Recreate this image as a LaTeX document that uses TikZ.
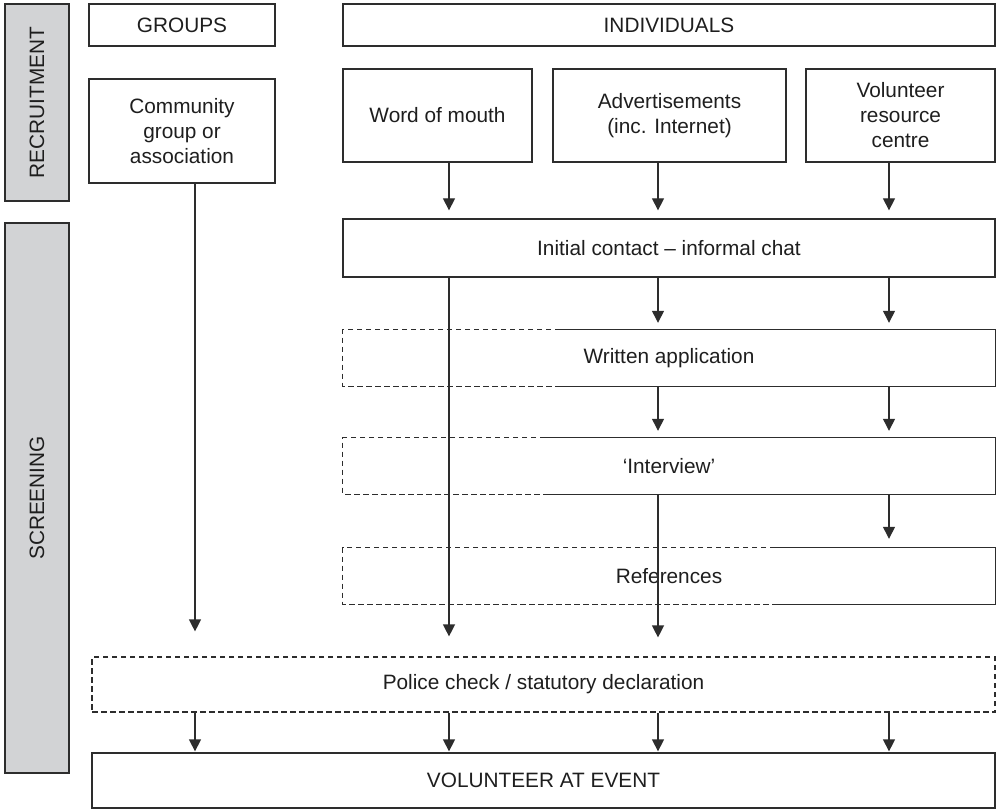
\documentclass[tikz,border=0pt]{standalone}
\usepackage{fontspec}
\setmainfont{Liberation Sans}
\usetikzlibrary{arrows.meta}
\definecolor{lc}{RGB}{45,45,45}
\definecolor{txt}{RGB}{30,30,30}
\definecolor{barfill}{RGB}{210,211,213}
\newcommand{\fs}{\fontsize{20.8}{25}\selectfont}
\begin{document}
\begin{tikzpicture}[x=1pt,y=-1pt,
  box/.style={draw=lc, line width=1.3pt, inner sep=0pt, align=center, font=\fs, text=txt},
  ghost/.style={draw=none, inner sep=0pt, align=center, font=\fs, text=txt},
  bar/.style={draw=lc, fill=barfill, line width=1.5pt, inner sep=0pt, font=\fs, text=txt},
  arr/.style={draw=lc, line width=1.3pt, -{Triangle[width=12pt,length=12pt]}},
  dsh/.style={draw=lc, line width=1.2pt, dash pattern=on 5.5pt off 3.5pt},
  sol/.style={draw=lc, line width=1.3pt}]
\useasboundingbox (0,0) rectangle (1000,810);

% side bars
\node[bar, rotate=90, minimum width=197pt, minimum height=64pt] (rec) at (37,102.5) {RECRUITMENT};
\node[bar, rotate=90, minimum width=550pt, minimum height=64pt] (scr) at (37,498) {SCREENING};

% top row
\node[box, minimum width=186pt, minimum height=42pt] (groups) at (182,25) {GROUPS};
\node[box, minimum width=652pt, minimum height=42pt] (indiv) at (669,25) {INDIVIDUALS};

% sources
\node[box, minimum width=186pt, minimum height=104pt] (comm) at (182,131) {Community\\group or\\association};
\node[box, minimum width=189pt, minimum height=93pt] (wom) at (437.5,115.5) {Word of mouth};
\node[box, minimum width=233pt, minimum height=93pt] (ads) at (669.5,115.5) {Advertisements\\(inc. Internet)};
\node[box, minimum width=189pt, minimum height=93pt] (vrc) at (900.5,115.5) {Volunteer\\resource\\centre};

% screening steps
\node[box, minimum width=652pt, minimum height=58pt] (ic) at (669,248) {Initial contact -- informal chat};
\node[ghost, minimum width=652pt, minimum height=56pt] (wa) at (669,358) {Written application};
\node[ghost, minimum width=652pt, minimum height=56pt] (iv) at (669,466) {`Interview'};
\node[ghost, minimum width=652pt, minimum height=56pt] (ref) at (669,576) {References};
\node[box, dash pattern=on 5.5pt off 3.5pt, line width=1.2pt, minimum width=903pt, minimum height=55pt] (pol) at (543.5,684.5) {Police check / statutory declaration};
\node[box, minimum width=903pt, minimum height=55pt] (vol) at (543.5,780.5) {VOLUNTEER AT EVENT};

% mixed borders
\coordinate (cwa) at (560,0);
\coordinate (civ) at (545,0);
\coordinate (cref) at (775,0);
\draw[dsh] (cwa |- wa.north) -- (wa.north west) -- (wa.south west) -- (cwa |- wa.south);
\draw[sol] (cwa |- wa.south) -- (wa.south east) -- (wa.north east) -- (cwa |- wa.north);
\draw[dsh] (civ |- iv.north) -- (iv.north west) -- (iv.south west) -- (civ |- iv.south);
\draw[sol] (civ |- iv.south) -- (iv.south east) -- (iv.north east) -- (civ |- iv.north);
\draw[dsh] (cref |- ref.north) -- (ref.north west) -- (ref.south west) -- (cref |- ref.south);
\draw[sol] (cref |- ref.south) -- (ref.south east) -- (ref.north east) -- (cref |- ref.north);

% arrow columns
\coordinate (xc) at (195,0);
\coordinate (xa) at (449,0);
\coordinate (xb) at (658,0);
\coordinate (xd) at (889,0);

\draw[arr, shorten >=8pt] (xa |- wom.south) -- (xa |- ic.north);
\draw[arr, shorten >=8pt] (xb |- ads.south) -- (xb |- ic.north);
\draw[arr, shorten >=8pt] (xd |- vrc.south) -- (xd |- ic.north);

\draw[arr, shorten >=25pt] (xc |- comm.south) -- (xc |- pol.north);
\draw[arr, shorten >=20pt] (xa |- ic.south) -- (xa |- pol.north);

\draw[arr, shorten >=7pt] (xb |- ic.south) -- (xb |- wa.north);
\draw[arr, shorten >=7pt] (xd |- ic.south) -- (xd |- wa.north);
\draw[arr, shorten >=7pt] (xb |- wa.south) -- (xb |- iv.north);
\draw[arr, shorten >=7pt] (xd |- wa.south) -- (xd |- iv.north);

\draw[arr, shorten >=19pt] (xb |- iv.south) -- (xb |- pol.north);
\draw[arr, shorten >=9pt] (xd |- iv.south) -- (xd |- ref.north);

\draw[arr, shorten >=1pt] (xc |- pol.south) -- (xc |- vol.north);
\draw[arr, shorten >=1pt] (xa |- pol.south) -- (xa |- vol.north);
\draw[arr, shorten >=1pt] (xb |- pol.south) -- (xb |- vol.north);
\draw[arr, shorten >=1pt] (xd |- pol.south) -- (xd |- vol.north);
\end{tikzpicture}
\end{document}
